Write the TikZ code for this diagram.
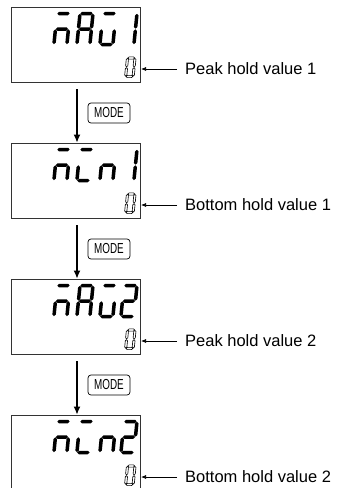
\documentclass[tikz,border=0pt]{standalone}
\usepackage{fontspec}
\setmainfont{Liberation Sans}
\newfontfamily\keyfont[FakeStretch=0.68]{Liberation Sans}
\usetikzlibrary{arrows.meta}

% one LCD segment, drawn as a pointed bar
\newcommand{\hseg}[3]{\path[seg] ({#1+\sgap},{#3}) -- ({#1+\sgap+\sth},{#3-\sth}) -- ({#2-\sgap-\sth},{#3-\sth}) -- ({#2-\sgap},{#3}) -- ({#2-\sgap-\sth},{#3+\sth}) -- ({#1+\sgap+\sth},{#3+\sth}) -- cycle;}
\newcommand{\vseg}[3]{\path[seg] ({#1},{#2+\sgap}) -- ({#1+\sth},{#2+\sgap+\sth}) -- ({#1+\sth},{#3-\sgap-\sth}) -- ({#1},{#3-\sgap}) -- ({#1-\sth},{#3-\sgap-\sth}) -- ({#1-\sth},{#2+\sgap+\sth}) -- cycle;}
\newcommand{\sega}{\hseg{0}{\dw}{0}}
\newcommand{\segb}{\vseg{\dw}{0}{\dh/2}}
\newcommand{\segc}{\vseg{\dw}{\dh/2}{\dh}}
\newcommand{\segd}{\hseg{0}{\dw}{\dh}}
\newcommand{\sege}{\vseg{0}{\dh/2}{\dh}}
\newcommand{\segf}{\vseg{0}{0}{\dh/2}}
\newcommand{\segg}{\hseg{0}{\dw}{\dh/2}}
% big character and small zero of the display
\newcommand{\bigchar}[3]{\begin{scope}[shift={(#1,#2)},xslant=0.1]
  \def\dw{13}\def\dh{31}\def\sth{1.75}\def\sgap{0.3}
  \foreach \s in {#3} {\csname seg\s\endcsname}
\end{scope}}
\newcommand{\smallzero}[2]{\begin{scope}[shift={(#1,#2)},xslant=0.1,seg/.style={draw,line width=.6pt,fill=white}]
  \def\dw{7.5}\def\dh{18.5}\def\sth{1.1}\def\sgap{0.4}
  \foreach \s in {a,b,c,d,e,f} {\csname seg\s\endcsname}
\end{scope}}

\begin{document}
\begin{tikzpicture}[x=1pt,y=-1pt,
  lcd/.style={draw=black!80,line width=.8pt,minimum width=129pt,minimum height=75pt,inner sep=0pt},
  key/.style={draw,line width=.7pt,rounded corners=3pt,minimum width=42pt,minimum height=20pt,inner sep=0pt,font=\keyfont\fontsize{14.5}{14.5}\selectfont},
  note/.style={anchor=west,inner sep=0pt,font=\fontsize{16.5}{18}\selectfont},
  flow/.style={-{Latex[length=8pt,width=7pt]},line width=1.4pt},
  pointer/.style={-{Latex[length=5pt,width=4pt]},line width=.7pt},
  seg/.style={fill=black}]
\useasboundingbox (0,0) rectangle (338,488);

% displays
\node[lcd] (d1) at (75.5,44.5) {};
\node[lcd] (d2) at (75.5,180.5) {};
\node[lcd] (d3) at (75.5,316.5) {};
\node[lcd] (d4) at (75.5,452.5) {};

% max 1
\bigchar{57}{13.5}{a,c,e,g}
\bigchar{80}{13.5}{a,b,c,e,f,g}
\bigchar{103}{13.5}{a,c,d,e}
\bigchar{124}{13.5}{b,c}
\smallzero{127.5}{58}
% min 1
\bigchar{57}{149.5}{a,c,e,g}
\bigchar{80}{149.5}{a,d,e}
\bigchar{103}{149.5}{c,e,g}
\bigchar{124}{149.5}{b,c}
\smallzero{127.5}{194}
% max 2
\bigchar{57}{285.5}{a,c,e,g}
\bigchar{80}{285.5}{a,b,c,e,f,g}
\bigchar{103}{285.5}{a,c,d,e}
\bigchar{124}{285.5}{a,b,d,e,g}
\smallzero{127.5}{330}
% min 2
\bigchar{57}{421.5}{a,c,e,g}
\bigchar{80}{421.5}{a,d,e}
\bigchar{103}{421.5}{c,e,g}
\bigchar{124}{421.5}{a,b,d,e,g}
\smallzero{127.5}{466}

% mode key between displays
\draw[flow] ([shift={(1.5,7)}]d1.south) -- ([xshift=1.5pt]d2.north);
\draw[flow] ([shift={(1.5,7)}]d2.south) -- ([xshift=1.5pt]d3.north);
\draw[flow] ([shift={(1.5,7)}]d3.south) -- ([xshift=1.5pt]d4.north);
\node[key] (k1) at (109,113) {MODE};
\node[key] (k2) at (109,249) {MODE};
\node[key] (k3) at (109,385) {MODE};

% what each display holds
\coordinate (p1) at (141,69);
\coordinate (p2) at (141,205);
\coordinate (p3) at (141,341);
\coordinate (p4) at (141,477);
\node[note] (t1) at (185,69) {Peak hold value 1};
\node[note] (t2) at (185,205) {Bottom hold value 1};
\node[note] (t3) at (185,341) {Peak hold value 2};
\node[note] (t4) at (185,477) {Bottom hold value 2};
\draw[pointer] ([xshift=-8pt]t1.west) -- (p1);
\draw[pointer] ([xshift=-8pt]t2.west) -- (p2);
\draw[pointer] ([xshift=-8pt]t3.west) -- (p3);
\draw[pointer] ([xshift=-8pt]t4.west) -- (p4);
\end{tikzpicture}
\end{document}
